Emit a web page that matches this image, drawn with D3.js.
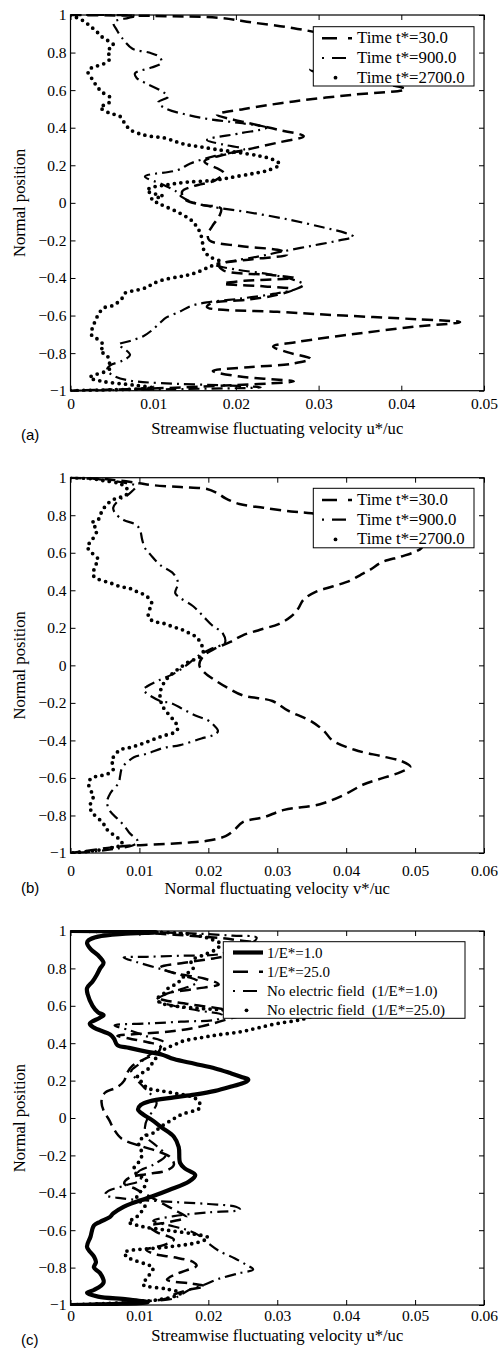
<!DOCTYPE html>
<html>
<head>
<meta charset="utf-8">
<script src="https://cdn.jsdelivr.net/npm/d3@7"></script>
<style>
html, body { margin: 0; padding: 0; background: #fff; }
svg { display: block; }
</style>
</head>
<body>
<svg id="fig" width="500" height="1355"></svg>
<script>
// ---- Fluctuating-velocity profiles: [normal position, velocity] ----

// (a) streamwise u*/uc at three times
const uT30 = [[1.00,0.000],[0.995,0.010],[0.985,0.018],[0.96,0.022],[0.93,0.027],[0.89,0.032],[0.85,0.040],[0.80,0.044],[0.75,0.037],[0.71,0.029],[0.68,0.031],[0.64,0.037],[0.605,0.0405],[0.575,0.034],[0.54,0.027],[0.50,0.021],[0.47,0.0177],[0.43,0.021],[0.39,0.025],[0.355,0.0282],[0.32,0.025],[0.29,0.022],[0.26,0.019],[0.22,0.0162],[0.16,0.0185],[0.12,0.0175],[0.09,0.0150],[0.06,0.0135],[0.02,0.0138],[-0.01,0.0158],[-0.03,0.0182],[-0.07,0.0180],[-0.12,0.0172],[-0.17,0.0166],[-0.20,0.0168],[-0.23,0.0205],[-0.255,0.0255],[-0.275,0.0262],[-0.30,0.022],[-0.33,0.018],[-0.36,0.0185],[-0.385,0.0245],[-0.40,0.027],[-0.415,0.021],[-0.43,0.0185],[-0.445,0.0235],[-0.46,0.0270],[-0.49,0.0250],[-0.515,0.0215],[-0.535,0.0170],[-0.555,0.0165],[-0.58,0.0250],[-0.60,0.0330],[-0.62,0.0420],[-0.635,0.0471],[-0.66,0.0415],[-0.70,0.0340],[-0.74,0.0275],[-0.765,0.0245],[-0.795,0.0262],[-0.83,0.0290],[-0.855,0.0270],[-0.875,0.0215],[-0.895,0.0172],[-0.925,0.0205],[-0.95,0.0270],[-0.97,0.0200],[-0.985,0.0120],[-1.00,0.000]];
const uT900 = [[1.00,0.000],[0.995,0.008],[0.985,0.007],[0.96,0.0052],[0.92,0.0056],[0.88,0.0062],[0.82,0.0075],[0.80,0.0095],[0.775,0.0108],[0.745,0.0110],[0.72,0.0098],[0.69,0.0078],[0.665,0.0080],[0.635,0.0092],[0.60,0.0108],[0.565,0.0118],[0.535,0.0106],[0.50,0.0116],[0.47,0.0140],[0.445,0.0168],[0.425,0.0205],[0.40,0.0237],[0.37,0.0205],[0.335,0.0165],[0.31,0.0185],[0.285,0.0210],[0.25,0.0175],[0.21,0.0145],[0.175,0.0130],[0.14,0.0090],[0.10,0.0110],[0.06,0.0128],[0.03,0.0135],[0.0,0.0150],[-0.02,0.0170],[-0.05,0.0215],[-0.09,0.0265],[-0.13,0.0305],[-0.16,0.0332],[-0.18,0.0342],[-0.20,0.0325],[-0.23,0.0290],[-0.26,0.0255],[-0.285,0.0228],[-0.31,0.0195],[-0.33,0.0175],[-0.355,0.0200],[-0.38,0.0240],[-0.41,0.0270],[-0.435,0.0282],[-0.46,0.0272],[-0.485,0.0245],[-0.51,0.0205],[-0.53,0.0165],[-0.55,0.0145],[-0.58,0.0132],[-0.61,0.0116],[-0.64,0.0108],[-0.68,0.0098],[-0.71,0.0088],[-0.735,0.0072],[-0.755,0.0058],[-0.78,0.0066],[-0.81,0.0072],[-0.84,0.0063],[-0.865,0.0048],[-0.89,0.0044],[-0.92,0.0052],[-0.945,0.0070],[-0.96,0.0110],[-0.972,0.0190],[-0.982,0.0230],[-0.992,0.0120],[-1.00,0.000]];
const uT2700 = [[1.00,0.000],[0.97,0.0015],[0.94,0.0024],[0.91,0.0032],[0.88,0.0039],[0.84,0.0052],[0.81,0.0045],[0.77,0.0048],[0.74,0.0040],[0.72,0.0026],[0.70,0.0021],[0.66,0.0026],[0.62,0.0032],[0.59,0.0038],[0.56,0.0048],[0.53,0.0046],[0.51,0.0036],[0.48,0.0046],[0.46,0.0060],[0.42,0.0066],[0.39,0.0072],[0.37,0.0082],[0.355,0.0096],[0.345,0.0114],[0.325,0.0128],[0.31,0.0140],[0.30,0.0155],[0.285,0.0175],[0.27,0.0200],[0.25,0.0228],[0.23,0.0245],[0.205,0.0253],[0.175,0.0240],[0.158,0.0223],[0.14,0.0200],[0.12,0.0173],[0.11,0.0140],[0.095,0.0115],[0.08,0.0097],[0.065,0.0092],[0.05,0.0100],[0.035,0.0112],[0.02,0.0098],[0.0,0.0105],[-0.02,0.0115],[-0.05,0.0130],[-0.08,0.0142],[-0.10,0.0148],[-0.13,0.0153],[-0.16,0.0157],[-0.22,0.0160],[-0.26,0.0162],[-0.29,0.0170],[-0.315,0.0182],[-0.34,0.0168],[-0.37,0.0153],[-0.385,0.0141],[-0.395,0.0129],[-0.41,0.0112],[-0.43,0.0100],[-0.45,0.0092],[-0.465,0.0080],[-0.48,0.0066],[-0.51,0.0062],[-0.545,0.0052],[-0.56,0.0040],[-0.60,0.0033],[-0.65,0.0028],[-0.70,0.0025],[-0.72,0.0031],[-0.76,0.0040],[-0.79,0.0036],[-0.81,0.0044],[-0.85,0.0047],[-0.88,0.0048],[-0.90,0.0041],[-0.915,0.0030],[-0.93,0.0023],[-0.95,0.0038],[-0.97,0.0076],[-0.985,0.0100],[-1.00,0.000]];

// (b) normal v*/uc at three times
const vT30 = [[1.00,0.000],[0.995,0.004],[0.985,0.007],[0.97,0.010],[0.96,0.012],[0.95,0.016],[0.94,0.0198],[0.92,0.0212],[0.89,0.0225],[0.86,0.0245],[0.84,0.028],[0.82,0.032],[0.81,0.035],[0.77,0.039],[0.72,0.044],[0.67,0.048],[0.63,0.051],[0.61,0.0503],[0.58,0.048],[0.55,0.0452],[0.51,0.0435],[0.48,0.042],[0.45,0.0405],[0.42,0.038],[0.39,0.0355],[0.35,0.0338],[0.30,0.033],[0.26,0.032],[0.22,0.0302],[0.19,0.0275],[0.16,0.025],[0.125,0.0232],[0.09,0.021],[0.05,0.0193],[0.0,0.0187],[-0.04,0.0195],[-0.08,0.021],[-0.12,0.0228],[-0.16,0.025],[-0.19,0.0293],[-0.24,0.0315],[-0.30,0.035],[-0.35,0.0368],[-0.40,0.038],[-0.45,0.0412],[-0.485,0.0452],[-0.51,0.048],[-0.54,0.0493],[-0.57,0.0478],[-0.61,0.0445],[-0.635,0.0425],[-0.69,0.0397],[-0.74,0.0362],[-0.77,0.031],[-0.81,0.028],[-0.835,0.025],[-0.88,0.0237],[-0.91,0.0225],[-0.935,0.0198],[-0.945,0.0169],[-0.955,0.012],[-0.96,0.009],[-0.97,0.006],[-0.985,0.003],[-1.00,0.000]];
const vT900 = [[1.00,0.000],[0.99,0.0045],[0.975,0.0075],[0.955,0.0095],[0.93,0.0090],[0.905,0.0082],[0.88,0.0070],[0.84,0.0062],[0.81,0.0065],[0.775,0.0077],[0.75,0.0095],[0.72,0.0101],[0.67,0.0104],[0.625,0.0108],[0.59,0.0116],[0.535,0.0130],[0.49,0.0149],[0.44,0.0156],[0.385,0.0152],[0.36,0.0159],[0.315,0.0178],[0.26,0.0193],[0.215,0.0205],[0.17,0.0221],[0.12,0.0224],[0.09,0.0205],[0.05,0.0185],[0.0,0.0168],[-0.04,0.0152],[-0.08,0.0128],[-0.11,0.0112],[-0.13,0.0106],[-0.19,0.0130],[-0.20,0.0145],[-0.235,0.0164],[-0.27,0.0183],[-0.29,0.0198],[-0.315,0.0207],[-0.35,0.0214],[-0.37,0.0208],[-0.39,0.0190],[-0.425,0.0159],[-0.44,0.0135],[-0.47,0.0112],[-0.49,0.0092],[-0.545,0.0075],[-0.59,0.0072],[-0.625,0.0070],[-0.68,0.0058],[-0.73,0.0053],[-0.78,0.0058],[-0.82,0.0069],[-0.86,0.0079],[-0.895,0.0086],[-0.94,0.0098],[-0.96,0.0090],[-0.975,0.0070],[-0.99,0.0040],[-1.00,0.000]];
const vT2700 = [[1.00,0.000],[0.995,0.0030],[0.985,0.0047],[0.97,0.0070],[0.95,0.0080],[0.93,0.0083],[0.905,0.0080],[0.89,0.0066],[0.865,0.0055],[0.83,0.0047],[0.80,0.0043],[0.775,0.0040],[0.76,0.0031],[0.735,0.0036],[0.715,0.0038],[0.685,0.0034],[0.66,0.0030],[0.635,0.0024],[0.60,0.0031],[0.565,0.0040],[0.53,0.0036],[0.48,0.0033],[0.46,0.0040],[0.44,0.0057],[0.42,0.0072],[0.41,0.0086],[0.39,0.0098],[0.37,0.0110],[0.33,0.0118],[0.30,0.0115],[0.26,0.0113],[0.235,0.0120],[0.225,0.0134],[0.205,0.0149],[0.19,0.0162],[0.17,0.0173],[0.15,0.0183],[0.11,0.0190],[0.08,0.0193],[0.045,0.0188],[0.02,0.0172],[-0.01,0.0160],[-0.04,0.0149],[-0.08,0.0138],[-0.13,0.0131],[-0.17,0.0130],[-0.22,0.0134],[-0.29,0.0149],[-0.33,0.0156],[-0.355,0.0152],[-0.37,0.0140],[-0.385,0.0127],[-0.405,0.0113],[-0.425,0.0098],[-0.44,0.0084],[-0.45,0.0072],[-0.49,0.0062],[-0.505,0.0060],[-0.555,0.0062],[-0.58,0.0053],[-0.59,0.0040],[-0.60,0.0031],[-0.625,0.0026],[-0.68,0.0031],[-0.70,0.0033],[-0.755,0.0028],[-0.79,0.0033],[-0.84,0.0047],[-0.875,0.0053],[-0.915,0.0067],[-0.93,0.0072],[-0.955,0.0075],[-0.97,0.0062],[-0.985,0.0040],[-1.00,0.000]];

// (c) streamwise u*/uc with and without the electric field
const uE1 = [[1.00,0.000],[0.997,0.0080],[0.993,0.0125],[0.985,0.0075],[0.97,0.0040],[0.95,0.0026],[0.935,0.0024],[0.90,0.0030],[0.87,0.0040],[0.83,0.0048],[0.80,0.0043],[0.765,0.0038],[0.73,0.0032],[0.695,0.0024],[0.66,0.0025],[0.60,0.0032],[0.565,0.0040],[0.55,0.0048],[0.535,0.0042],[0.505,0.0028],[0.485,0.0033],[0.445,0.0058],[0.425,0.0063],[0.39,0.0068],[0.375,0.0085],[0.355,0.0110],[0.34,0.0132],[0.315,0.0150],[0.29,0.0180],[0.265,0.0210],[0.24,0.0232],[0.215,0.0252],[0.205,0.0258],[0.19,0.0253],[0.17,0.0235],[0.145,0.0210],[0.125,0.0180],[0.11,0.0150],[0.09,0.0115],[0.07,0.0102],[0.045,0.0098],[0.02,0.0105],[-0.01,0.0118],[-0.05,0.0132],[-0.10,0.0150],[-0.155,0.0157],[-0.24,0.0159],[-0.27,0.0166],[-0.305,0.0181],[-0.34,0.0172],[-0.385,0.0143],[-0.42,0.0118],[-0.455,0.0090],[-0.475,0.0077],[-0.51,0.0062],[-0.53,0.0057],[-0.555,0.0043],[-0.575,0.0034],[-0.635,0.0029],[-0.69,0.0024],[-0.74,0.0034],[-0.77,0.0037],[-0.80,0.0034],[-0.83,0.0043],[-0.88,0.0048],[-0.92,0.0034],[-0.935,0.0024],[-0.955,0.0040],[-0.97,0.0082],[-0.985,0.0112],[-0.995,0.0060],[-1.00,0.000]];
const uE25 = [[1.00,0.000],[0.995,0.007],[0.985,0.013],[0.97,0.0190],[0.955,0.0235],[0.925,0.0280],[0.89,0.0260],[0.855,0.0210],[0.83,0.0165],[0.805,0.0130],[0.775,0.0150],[0.745,0.0195],[0.715,0.0215],[0.69,0.0180],[0.665,0.0140],[0.64,0.0130],[0.61,0.0170],[0.58,0.0225],[0.555,0.0250],[0.525,0.0225],[0.49,0.0190],[0.465,0.0150],[0.45,0.0100],[0.44,0.0068],[0.425,0.0085],[0.405,0.0112],[0.385,0.0130],[0.355,0.0128],[0.32,0.0110],[0.28,0.0090],[0.24,0.0082],[0.20,0.0078],[0.165,0.0068],[0.135,0.0050],[0.09,0.0045],[0.04,0.0048],[-0.01,0.0056],[-0.06,0.0063],[-0.11,0.0074],[-0.15,0.0102],[-0.18,0.0128],[-0.21,0.0145],[-0.25,0.0150],[-0.28,0.0140],[-0.30,0.0110],[-0.32,0.0085],[-0.35,0.0078],[-0.38,0.0095],[-0.42,0.0115],[-0.46,0.0135],[-0.50,0.0155],[-0.53,0.0168],[-0.555,0.0145],[-0.58,0.0115],[-0.61,0.0125],[-0.65,0.0150],[-0.68,0.0135],[-0.705,0.0110],[-0.73,0.0125],[-0.745,0.0150],[-0.77,0.0178],[-0.79,0.0183],[-0.815,0.0168],[-0.84,0.0150],[-0.865,0.0140],[-0.885,0.0175],[-0.90,0.0195],[-0.92,0.0170],[-0.945,0.0150],[-0.965,0.0140],[-0.98,0.0110],[-0.99,0.0060],[-1.00,0.000]];
const uNoE1 = [[1.00,0.000],[0.995,0.010],[0.985,0.019],[0.975,0.0235],[0.965,0.0270],[0.94,0.0265],[0.905,0.0240],[0.875,0.0215],[0.868,0.0160],[0.862,0.0110],[0.858,0.0077],[0.835,0.0095],[0.80,0.0128],[0.765,0.0160],[0.73,0.0185],[0.70,0.0170],[0.665,0.0140],[0.63,0.0125],[0.60,0.0150],[0.575,0.0185],[0.55,0.0220],[0.53,0.0215],[0.515,0.0160],[0.505,0.0110],[0.495,0.0064],[0.47,0.0085],[0.435,0.0112],[0.405,0.0135],[0.37,0.0128],[0.33,0.0112],[0.29,0.0100],[0.25,0.0088],[0.21,0.0095],[0.17,0.0105],[0.12,0.0118],[0.08,0.0125],[0.04,0.0120],[0.0,0.0112],[-0.05,0.0108],[-0.10,0.0110],[-0.15,0.0125],[-0.20,0.0138],[-0.25,0.0120],[-0.29,0.0098],[-0.33,0.0102],[-0.36,0.0080],[-0.39,0.0055],[-0.41,0.0050],[-0.43,0.0075],[-0.445,0.0130],[-0.46,0.0200],[-0.475,0.0240],[-0.49,0.0246],[-0.505,0.0200],[-0.525,0.0150],[-0.55,0.0120],[-0.58,0.0150],[-0.60,0.0170],[-0.625,0.0185],[-0.67,0.0200],[-0.71,0.0215],[-0.75,0.0238],[-0.785,0.0255],[-0.81,0.0265],[-0.83,0.0245],[-0.86,0.0215],[-0.89,0.0195],[-0.915,0.0175],[-0.945,0.0160],[-0.965,0.0150],[-0.98,0.0110],[-0.992,0.0055],[-1.00,0.000]];
const uNoE25 = [[1.00,0.000],[0.995,0.009],[0.99,0.0150],[0.975,0.0185],[0.955,0.0205],[0.93,0.0218],[0.90,0.0210],[0.87,0.0192],[0.84,0.0175],[0.80,0.0178],[0.77,0.0168],[0.74,0.0160],[0.72,0.0155],[0.695,0.0142],[0.665,0.0135],[0.635,0.0125],[0.61,0.0135],[0.59,0.0175],[0.575,0.0240],[0.56,0.0320],[0.545,0.0350],[0.525,0.0333],[0.505,0.0300],[0.48,0.0270],[0.46,0.0245],[0.445,0.0215],[0.43,0.0190],[0.41,0.0162],[0.39,0.0150],[0.37,0.0137],[0.34,0.0128],[0.30,0.0120],[0.26,0.0112],[0.22,0.0097],[0.19,0.0104],[0.16,0.0112],[0.145,0.0132],[0.13,0.0155],[0.115,0.0175],[0.09,0.0186],[0.055,0.0188],[0.04,0.0180],[0.02,0.0162],[-0.01,0.0147],[-0.05,0.0130],[-0.08,0.0120],[-0.10,0.0106],[-0.14,0.0099],[-0.19,0.0104],[-0.23,0.0100],[-0.27,0.0092],[-0.30,0.0096],[-0.33,0.0110],[-0.37,0.0107],[-0.40,0.0100],[-0.43,0.0096],[-0.47,0.0108],[-0.505,0.0102],[-0.535,0.0094],[-0.555,0.0084],[-0.58,0.0104],[-0.60,0.0140],[-0.62,0.0178],[-0.64,0.0200],[-0.665,0.0185],[-0.69,0.0140],[-0.72,0.0078],[-0.745,0.0083],[-0.76,0.0092],[-0.78,0.0108],[-0.80,0.0120],[-0.83,0.0116],[-0.86,0.0110],[-0.89,0.0105],[-0.915,0.0140],[-0.935,0.0160],[-0.955,0.0150],[-0.97,0.0130],[-0.985,0.0090],[-1.00,0.000]];

// ---- Ticks and labels ----
const yTicks = [1, 0.8, 0.6, 0.4, 0.2, 0, -0.2, -0.4, -0.6, -0.8, -1];
const xTicksA = [0, 0.01, 0.02, 0.03, 0.04, 0.05];
const xTicksBC = [0, 0.01, 0.02, 0.03, 0.04, 0.05, 0.06];
const legendTime = ['Time t*=30.0', 'Time t*=900.0', 'Time t*=2700.0'];
const legendField = ['1/E*=1.0', '1/E*=25.0', 'No electric field  (1/E*=1.0)', 'No electric field  (1/E*=25.0)'];
const yTitle = 'Normal position';

// ---- Line styles ----
const styles = {
  solid:   { width: 4.2, dash: null,       cap: 'butt',  legendDash: null },
  dashed:  { width: 2.5, dash: '11,6',     cap: 'butt',  legendDash: '15,11' },
  dashdot: { width: 2.2, dash: '11,5,2,5', cap: 'butt',  legendDash: '2,8,14,10' },
  dotted:  { width: 3.8, dash: '0,6.5',    cap: 'round', legendDash: null }
};

const serif = '"Liberation Serif", "Times New Roman", serif';
const sans = '"Liberation Sans", Arial, sans-serif';
const tickFont = 15.5, titleFont = 16.6;

const panels = [
  { tag: '(a)', top: 15, bottom: 390.7, xMax: 0.05, xTicks: xTicksA, tickPad: 7,
    xTitle: 'Streamwise fluctuating velocity u*/uc', xTitleY: 434, tagY: 439.5,
    series: [[uT30, 'dashed'], [uT900, 'dashdot'], [uT2700, 'dotted']],
    legend: { x: 313.3, y: 26.7, w: 160.7, h: 59.3, s1: 322, s2: 352, tx: 357, font: 16.8, rows: [43.3, 63, 82.7], labels: legendTime } },
  { tag: '(b)', top: 477.7, bottom: 853, xMax: 0.06, xTicks: xTicksBC, tickPad: 12,
    xTitle: 'Normal fluctuating velocity v*/uc', xTitleY: 894, tagY: 893,
    series: [[vT30, 'dashed'], [vT900, 'dashdot'], [vT2700, 'dotted']],
    legend: { x: 313.3, y: 488.3, w: 160.7, h: 59.5, s1: 322, s2: 352, tx: 357, font: 16.8, rows: [505, 524.7, 544.4], labels: legendTime } },
  { tag: '(c)', top: 931, bottom: 1305, xMax: 0.06, xTicks: xTicksBC, tickPad: 5,
    xTitle: 'Streamwise fluctuating velocity u*/uc', xTitleY: 1341, tagY: 1345,
    series: [[uE1, 'solid'], [uE25, 'dashed'], [uNoE1, 'dashdot'], [uNoE25, 'dotted']],
    legend: { x: 223.3, y: 941.7, w: 241.7, h: 76.6, s1: 233, s2: 263, tx: 267, font: 15, rows: [957.5, 976.8, 996, 1015.3], labels: legendField } }
];

const left = 70.5, right = 484;
const svg = d3.select('#fig');
const fmtY = d => d === 0 ? '0' : (d < 0 ? '\u2212' : '') + Math.abs(d);
const fmtX = d => d === 0 ? '0' : String(d);

panels.forEach((p, i) => {
  const x = d3.scaleLinear().domain([0, p.xMax]).range([left, right]);
  const y = d3.scaleLinear().domain([-1, 1]).range([p.bottom, p.top]);
  const g = svg.append('g');

  const clipId = 'clip' + i;
  svg.append('clipPath').attr('id', clipId).append('rect')
    .attr('x', left).attr('y', p.top - 1).attr('width', right - left).attr('height', p.bottom - p.top + 2);

  // profiles
  const line = d3.line()
    .x(d => x(d[1]))
    .y(d => y(d[0]))
    .curve(d3.curveCatmullRom.alpha(0.5));
  const curves = g.append('g').attr('clip-path', `url(#${clipId})`);
  p.series.forEach(([data, key]) => {
    const s = styles[key];
    curves.append('path')
      .attr('d', line(data))
      .attr('fill', 'none')
      .attr('stroke', '#000')
      .attr('stroke-width', s.width)
      .attr('stroke-linecap', s.cap)
      .attr('stroke-linejoin', 'round')
      .attr('stroke-dasharray', s.dash);
  });

  // axes with inward ticks on all four sides
  const styleAxis = sel => {
    sel.select('.domain').remove();
    sel.selectAll('line').attr('stroke', '#000').attr('stroke-width', 1);
    sel.selectAll('text').attr('font-family', serif).attr('font-size', tickFont).attr('fill', '#000');
  };
  g.append('g').attr('transform', `translate(0,${p.bottom})`)
    .call(d3.axisBottom(x).tickValues(p.xTicks).tickFormat(fmtX).tickSize(-5).tickPadding(p.tickPad))
    .call(styleAxis);
  g.append('g').attr('transform', `translate(0,${p.top})`)
    .call(d3.axisTop(x).tickValues(p.xTicks).tickFormat('').tickSize(-5))
    .call(styleAxis);
  g.append('g').attr('transform', `translate(${left},0)`)
    .call(d3.axisLeft(y).tickValues(yTicks).tickFormat(fmtY).tickSize(-5).tickPadding(4))
    .call(styleAxis);
  g.append('g').attr('transform', `translate(${right},0)`)
    .call(d3.axisRight(y).tickValues(yTicks).tickFormat('').tickSize(-5))
    .call(styleAxis);

  g.append('rect')
    .attr('x', left).attr('y', p.top)
    .attr('width', right - left).attr('height', p.bottom - p.top)
    .attr('fill', 'none').attr('stroke', '#000').attr('stroke-width', 1.2);

  // titles
  g.append('text')
    .attr('x', (left + right) / 2).attr('y', p.xTitleY)
    .attr('text-anchor', 'middle')
    .attr('font-family', serif).attr('font-size', titleFont)
    .text(p.xTitle);
  g.append('text')
    .attr('transform', `translate(25,${(p.top + p.bottom) / 2}) rotate(-90)`)
    .attr('text-anchor', 'middle')
    .attr('font-family', serif).attr('font-size', titleFont)
    .text(yTitle);
  g.append('text')
    .attr('x', 21).attr('y', p.tagY)
    .attr('font-family', sans).attr('font-size', 15)
    .text(p.tag);

  // legend
  const L = p.legend;
  const lg = g.append('g');
  lg.append('rect')
    .attr('x', L.x).attr('y', L.y).attr('width', L.w).attr('height', L.h)
    .attr('fill', '#fff').attr('stroke', '#000').attr('stroke-width', 1);
  p.series.forEach(([, key], k) => {
    const s = styles[key];
    const cy = L.rows[k] - 5;
    if (key === 'dotted') {
      lg.append('circle')
        .attr('cx', (L.s1 + L.s2) / 2 - 1.5).attr('cy', cy).attr('r', s.width / 2)
        .attr('fill', '#000');
    } else {
      lg.append('line')
        .attr('x1', L.s1).attr('x2', L.s2).attr('y1', cy).attr('y2', cy)
        .attr('stroke', '#000').attr('stroke-width', s.width)
        .attr('stroke-dasharray', s.legendDash);
    }
    lg.append('text')
      .attr('x', L.tx).attr('y', L.rows[k])
      .attr('font-family', serif).attr('font-size', L.font)
      .style('white-space', 'pre')
      .text(L.labels[k]);
  });
});
</script>
</body>
</html>
